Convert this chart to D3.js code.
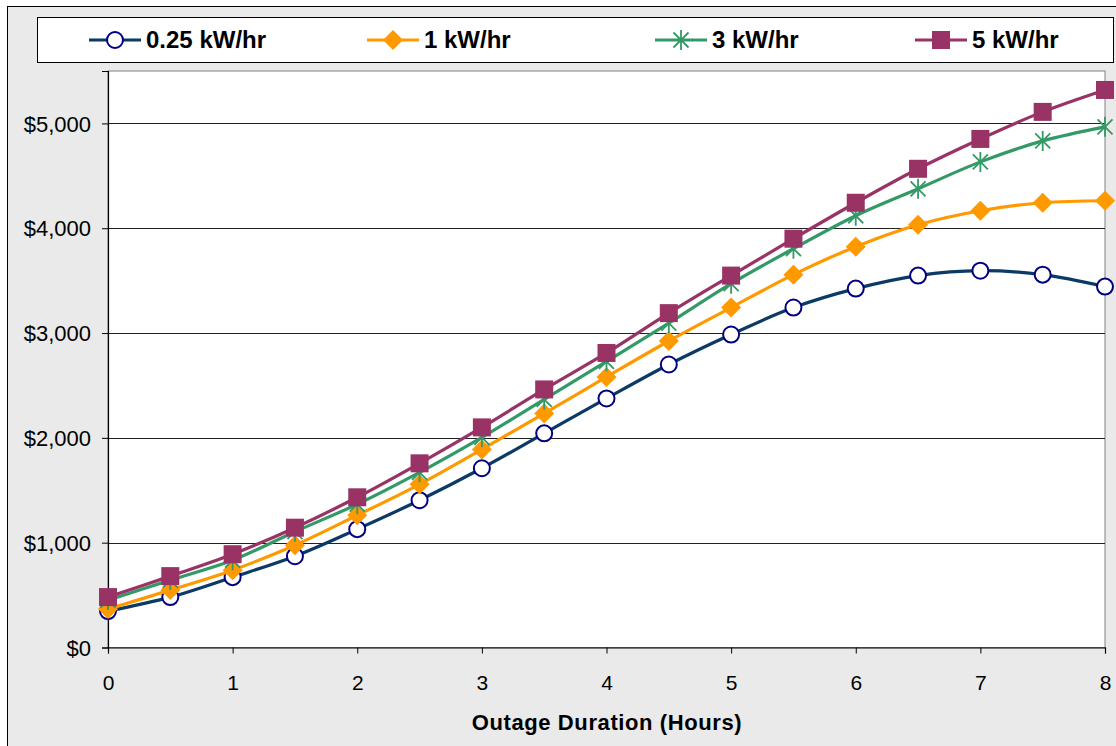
<!DOCTYPE html>
<html>
<head>
<meta charset="utf-8">
<script src="https://cdn.jsdelivr.net/npm/d3@7"></script>
<style>
  body { margin: 0; background: #fff; }
  svg { display: block; font-family: "Liberation Sans", Arial, sans-serif; }
</style>
</head>
<body>
<svg id="chart" width="1116" height="746"></svg>
<script>
// outage duration (hours) and cost per series
var hours = [0, 0.5, 1, 1.5, 2, 2.5, 3, 3.5, 4, 4.5, 5, 5.5, 6, 6.5, 7, 7.5, 8];
var seriesNames = ["0.25 kW/hr", "1 kW/hr", "3 kW/hr", "5 kW/hr"];
var cost025 = [348, 481, 671, 871, 1129, 1405, 1710, 2043, 2376, 2700, 2986, 3243, 3424, 3548, 3595, 3557, 3443];
var cost1 = [367, 548, 738, 976, 1262, 1557, 1890, 2233, 2581, 2924, 3243, 3557, 3824, 4033, 4167, 4243, 4262];
var cost3 = [452, 643, 833, 1105, 1367, 1671, 2005, 2367, 2729, 3095, 3471, 3805, 4119, 4376, 4633, 4833, 4967];
var cost5 = [481, 681, 890, 1143, 1433, 1757, 2100, 2462, 2810, 3190, 3548, 3900, 4243, 4567, 4852, 5110, 5319];
var xTicks = [0, 1, 2, 3, 4, 5, 6, 7, 8];
var yTicks = [0, 1000, 2000, 3000, 4000, 5000];

var colors = ["#0b3a66", "#ff9900", "#339966", "#993366"];
var markers = ["circle", "diamond", "star", "square"];
var allSeries = [cost025, cost1, cost3, cost5];

var svg = d3.select("#chart");

// chart area background
svg.append("rect")
    .attr("x", 7.5).attr("y", 6.5)
    .attr("width", 1120).attr("height", 760)
    .attr("fill", "#eaeaea")
    .attr("stroke", "#000");

var plot = {left: 108, right: 1105, top: 71, bottom: 647.5};

var x = d3.scaleLinear().domain([0, 8]).range([plot.left, plot.right]);
var y = d3.scaleLinear().domain([0, 5500]).range([plot.bottom, plot.top]);

svg.append("rect")
    .attr("x", plot.left).attr("y", plot.top)
    .attr("width", plot.right - plot.left)
    .attr("height", plot.bottom - plot.top)
    .attr("fill", "#fff")
    .attr("stroke", "#808080");

// gridlines
svg.selectAll(".grid")
    .data(yTicks.filter(function(d) { return d > 0; }))
    .enter()
    .append("line")
    .attr("x1", plot.left).attr("x2", plot.right)
    .attr("y1", function(d) { return Math.round(y(d)) + 0.5; })
    .attr("y2", function(d) { return Math.round(y(d)) + 0.5; })
    .attr("stroke", "#222")
    .attr("stroke-width", 1);

// axes
var yAxis = d3.axisLeft(y)
    .tickValues(yTicks)
    .tickSize(6)
    .tickPadding(11)
    .tickFormat(function(d) { return "$" + d3.format(",")(d); });

var xAxis = d3.axisBottom(x)
    .tickValues(xTicks)
    .tickSize(6)
    .tickPadding(22);

var gy = svg.append("g")
    .attr("transform", "translate(" + plot.left + ",0)")
    .call(yAxis);
var gx = svg.append("g")
    .attr("transform", "translate(0," + plot.bottom + ")")
    .call(xAxis);

[gx, gy].forEach(function(g) {
    g.select(".domain").attr("stroke", "#000").attr("stroke-width", 1.2);
    g.selectAll(".tick line").attr("stroke", "#000");
    g.selectAll("text")
        .attr("fill", "#000")
        .style("font-size", "22px")
        .style("font-family", "'Liberation Sans', Arial, sans-serif");
});
gx.selectAll("text").style("font-size", "21px");
gy.selectAll("text").attr("dy", "0.35em");

svg.append("text")
    .attr("x", 607)
    .attr("y", 730)
    .attr("text-anchor", "middle")
    .style("font-size", "22px")
    .style("font-weight", "bold")
    .style("letter-spacing", "0.6px")
    .text("Outage Duration (Hours)");

// draw marker at position
function drawMarker(g, type, color, cx, cy) {
    if (type === "circle") {
        g.append("circle")
            .attr("cx", cx).attr("cy", cy).attr("r", 8)
            .attr("fill", "#fff")
            .attr("stroke", "#000080")
            .attr("stroke-width", 2);
    } else if (type === "diamond") {
        var s = 10;
        g.append("path")
            .attr("d", "M" + cx + "," + (cy - s) + "L" + (cx + s) + "," + cy +
                       "L" + cx + "," + (cy + s) + "L" + (cx - s) + "," + cy + "Z")
            .attr("fill", color);
    } else if (type === "square") {
        var h = 9;
        g.append("rect")
            .attr("x", cx - h).attr("y", cy - h)
            .attr("width", 2 * h).attr("height", 2 * h)
            .attr("fill", color);
    } else {
        var r = 10;
        var d = r * 0.75;
        g.append("path")
            .attr("d", "M" + cx + "," + (cy - r) + "L" + cx + "," + (cy + r) +
                       "M" + (cx - d) + "," + (cy - d) + "L" + (cx + d) + "," + (cy + d) +
                       "M" + (cx - d) + "," + (cy + d) + "L" + (cx + d) + "," + (cy - d))
            .attr("stroke", color)
            .attr("stroke-width", 1.8)
            .attr("fill", "none");
    }
}

var line = d3.line()
    .x(function(d, i) { return x(hours[i]); })
    .y(function(d) { return y(d); })
    .curve(d3.curveCatmullRom);

var seriesG = svg.append("g");
allSeries.forEach(function(vals, k) {
    var g = seriesG.append("g");
    g.append("path")
        .attr("d", line(vals))
        .attr("fill", "none")
        .attr("stroke", colors[k])
        .attr("stroke-width", 3.2);
    vals.forEach(function(v, i) {
        drawMarker(g, markers[k], colors[k], x(hours[i]), y(v));
    });
});

// legend
svg.append("rect")
    .attr("x", 37.5).attr("y", 17.5)
    .attr("width", 1076).attr("height", 45)
    .attr("fill", "#fff")
    .attr("stroke", "#000");

var legendX = [89, 367, 655, 915];
seriesNames.forEach(function(name, k) {
    var g = svg.append("g");
    var lx = legendX[k];
    g.append("line")
        .attr("x1", lx).attr("x2", lx + 52)
        .attr("y1", 40).attr("y2", 40)
        .attr("stroke", colors[k])
        .attr("stroke-width", 3);
    drawMarker(g, markers[k], colors[k], lx + 26, 40);
    g.append("text")
        .attr("x", lx + 57)
        .attr("y", 40)
        .attr("dy", "0.35em")
        .style("font-size", "24px")
        .style("font-weight", "bold")
        .text(name);
});
</script>
</body>
</html>
